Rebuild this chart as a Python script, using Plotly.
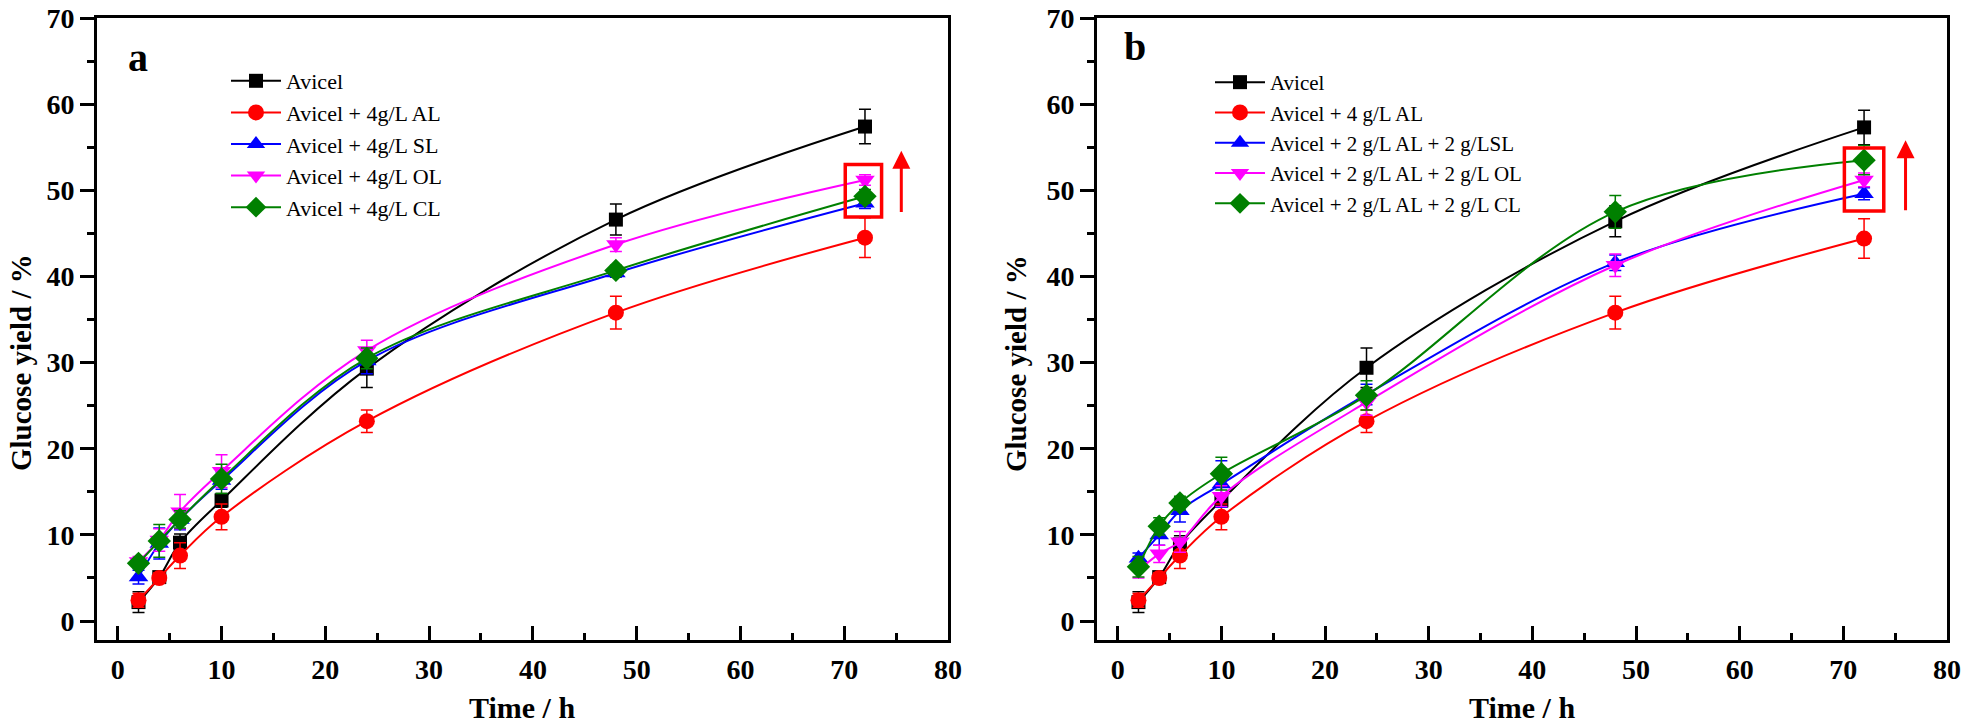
import plotly.graph_objects as go

# ---------------- data ----------------
time_h = [2, 4, 6, 10, 24, 48, 72]

# Panel a
a_names = ["Avicel", "Avicel + 4g/L AL", "Avicel + 4g/L SL", "Avicel + 4g/L OL", "Avicel + 4g/L CL"]
a_avicel = [2.2, 5.1, 9.1, 14.0, 29.3, 46.6, 57.4]
a_avicel_err = [1.2, 0.6, 1.0, 0.8, 2.2, 1.8, 2.0]
a_al = [2.4, 5.0, 7.6, 12.1, 23.2, 35.8, 44.5]
a_al_err = [0.8, 0.6, 1.5, 1.5, 1.3, 1.9, 2.3]
a_sl = [5.1, 9.0, 11.8, 16.3, 30.2, 40.4, 48.5]
a_sl_err = [0.8, 1.8, 1.2, 1.0, 1.5, 0.5, 0.6]
a_ol = [6.9, 9.4, 12.7, 17.4, 31.4, 43.7, 51.2]
a_ol_err = [0.6, 1.3, 2.0, 1.9, 1.2, 0.8, 0.6]
a_cl = [6.7, 9.3, 11.8, 16.5, 30.5, 40.7, 49.3]
a_cl_err = [0.5, 1.9, 1.0, 1.7, 1.2, 0.6, 0.8]

# Panel b
b_names = ["Avicel", "Avicel + 4 g/L AL", "Avicel + 2 g/L AL + 2 g/LSL",
           "Avicel + 2 g/L AL + 2 g/L OL", "Avicel + 2 g/L AL + 2 g/L CL"]
b_avicel = [2.2, 5.1, 8.9, 14.0, 29.4, 46.4, 57.3]
b_avicel_err = [1.2, 0.6, 1.0, 0.8, 2.3, 1.8, 2.0]
b_al = [2.4, 5.0, 7.6, 12.1, 23.2, 35.8, 44.4]
b_al_err = [0.8, 0.6, 1.5, 1.5, 1.3, 1.9, 2.3]
b_lsl = [7.3, 10.0, 12.8, 15.9, 26.3, 41.6, 49.6]
b_lsl_err = [0.6, 1.2, 1.3, 2.7, 1.2, 0.9, 0.7]
b_ol = [5.9, 7.8, 9.2, 14.5, 25.4, 41.3, 51.2]
b_ol_err = [0.9, 1.0, 1.2, 1.2, 1.5, 1.3, 0.8]
b_cl = [6.3, 11.0, 13.7, 17.1, 26.2, 47.5, 53.5]
b_cl_err = [1.2, 1.0, 0.8, 1.9, 1.7, 1.9, 1.7]

colors = ["#000000", "#FF0000", "#0000FF", "#FF00FF", "#008000"]
symbols = ["square", "circle", "triangle-up", "triangle-down", "diamond"]
msizes = [14, 16, 17, 17, 18]

# highlight boxes & arrows (data coords)
a_box = dict(x0=70.1, x1=73.6, y0=46.9, y1=53.0)
a_arrow = dict(x=75.5, y0=47.3, y1=54.6)
b_box = dict(x0=70.1, x1=73.9, y0=47.6, y1=54.9)
b_arrow = dict(x=76.0, y0=47.5, y1=55.8)

FONT = "Liberation Serif"

fig = go.Figure()

def add_panel(names, series, errs, xaxis, yaxis, legend):
    for i, (nm, ys, es) in enumerate(zip(names, series, errs)):
        fig.add_trace(go.Scatter(
            x=time_h, y=ys, name=nm, mode="lines+markers",
            xaxis=xaxis, yaxis=yaxis, legend=legend,
            line=dict(color=colors[i], width=2, shape="spline", smoothing=1.0),
            marker=dict(symbol=symbols[i], size=msizes[i], color=colors[i],
                        line=dict(width=0)),
            error_y=dict(type="data", array=es, visible=True, color=colors[i],
                         thickness=1.5, width=6),
        ))

add_panel(a_names, [a_avicel, a_al, a_sl, a_ol, a_cl],
          [a_avicel_err, a_al_err, a_sl_err, a_ol_err, a_cl_err], "x", "y", "legend")
add_panel(b_names, [b_avicel, b_al, b_lsl, b_ol, b_cl],
          [b_avicel_err, b_al_err, b_lsl_err, b_ol_err, b_cl_err], "x2", "y2", "legend2")

# page body margin is removed (post_script), so the figure fills the window
W, H = 1961, 728

def px(v):
    return v / W

def py(v):
    return 1 - v / H

dom_a = [px(97), px(948)]
dom_b = [px(1097), px(1947)]
dom_y = [py(640), py(18)]

tickfont = dict(family=FONT, size=28, color="black", weight="bold")

def xaxis_cfg(domain, anchor):
    return dict(domain=domain, anchor=anchor, range=[-2, 80], tick0=0, dtick=10,
                ticks="inside", ticklen=14, tickwidth=3, tickcolor="black",
                showline=True, linewidth=3, linecolor="black", mirror=True,
                showgrid=False, zeroline=False, tickfont=tickfont,
                ticklabelstandoff=2, automargin=False, ticklabeloverflow="allow",
                minor=dict(dtick=5, ticks="inside", ticklen=7, tickwidth=3,
                           tickcolor="black", showgrid=False))

def yaxis_cfg(anchor):
    return dict(domain=dom_y, anchor=anchor, range=[-2.2, 70], tick0=0, dtick=10,
                ticks="outside", ticklen=14, tickwidth=3, tickcolor="black",
                showline=True, linewidth=3, linecolor="black", mirror=True,
                showgrid=False, zeroline=False, tickfont=tickfont, automargin=False,
                ticklabeloverflow="allow",
                minor=dict(dtick=5, ticks="outside", ticklen=7, tickwidth=3,
                           tickcolor="black", showgrid=False))

fig.update_layout(
    width=W, height=H,
    margin=dict(l=0, r=0, t=0, b=0, autoexpand=False),
    paper_bgcolor="white", plot_bgcolor="white",
    xaxis=xaxis_cfg(dom_a, "y"), yaxis=yaxis_cfg("x"),
    xaxis2=xaxis_cfg(dom_b, "y2"), yaxis2=yaxis_cfg("x2"),
    legend=dict(x=px(226), y=py(60), xanchor="left", yanchor="top",
                bgcolor="rgba(0,0,0,0)", font=dict(family=FONT, size=22, color="black"),
                itemwidth=50, tracegroupgap=0),
    legend2=dict(x=px(1210), y=py(62), xanchor="left", yanchor="top",
                 bgcolor="rgba(0,0,0,0)", font=dict(family=FONT, size=21, color="black"),
                 itemwidth=50, tracegroupgap=0),
    showlegend=True,
)

title_font = dict(family=FONT, size=29, color="black", weight="bold")
xtitle_font = dict(family=FONT, size=30, color="black", weight="bold")
label_font = dict(family=FONT, size=40, color="black", weight="bold")
annots = [
    dict(text="Glucose yield / %", x=px(21), y=py(363), xref="paper", yref="paper",
         textangle=-90, showarrow=False, font=title_font, xanchor="center", yanchor="middle"),
    dict(text="Glucose yield / %", x=px(1016), y=py(363), xref="paper", yref="paper",
         textangle=-90, showarrow=False, font=title_font, xanchor="center", yanchor="middle"),
    dict(text="Time / h", x=px(522), y=py(707), xref="paper", yref="paper",
         showarrow=False, font=xtitle_font, xanchor="center", yanchor="middle"),
    dict(text="Time / h", x=px(1522), y=py(707), xref="paper", yref="paper",
         showarrow=False, font=xtitle_font, xanchor="center", yanchor="middle"),
    dict(text="a", x=px(138), y=py(58), xref="paper", yref="paper",
         showarrow=False, font=label_font, xanchor="center", yanchor="middle"),
    dict(text="b", x=px(1135), y=py(46), xref="paper", yref="paper",
         showarrow=False, font=label_font, xanchor="center", yanchor="middle"),
]
for arr, xr, yr in [(a_arrow, "x", "y"), (b_arrow, "x2", "y2")]:
    annots.append(dict(x=arr["x"], y=arr["y1"], ax=arr["x"], ay=arr["y0"],
                       xref=xr, yref=yr, axref=xr, ayref=yr, text="",
                       showarrow=True, arrowhead=2, arrowsize=1.2, arrowwidth=3,
                       arrowcolor="#FF0000", standoff=0, startstandoff=0))
fig.update_layout(annotations=annots)

shapes = []
for box, xr, yr in [(a_box, "x", "y"), (b_box, "x2", "y2")]:
    shapes.append(dict(type="rect", xref=xr, yref=yr, x0=box["x0"], x1=box["x1"],
                       y0=box["y0"], y1=box["y1"],
                       line=dict(color="#FF0000", width=3.5), fillcolor="rgba(0,0,0,0)"))
fig.update_layout(shapes=shapes)

fig.write_html("out.html",
               config={"displayModeBar": False},
               post_script="document.body.style.margin='0';document.body.style.overflow='hidden';")
